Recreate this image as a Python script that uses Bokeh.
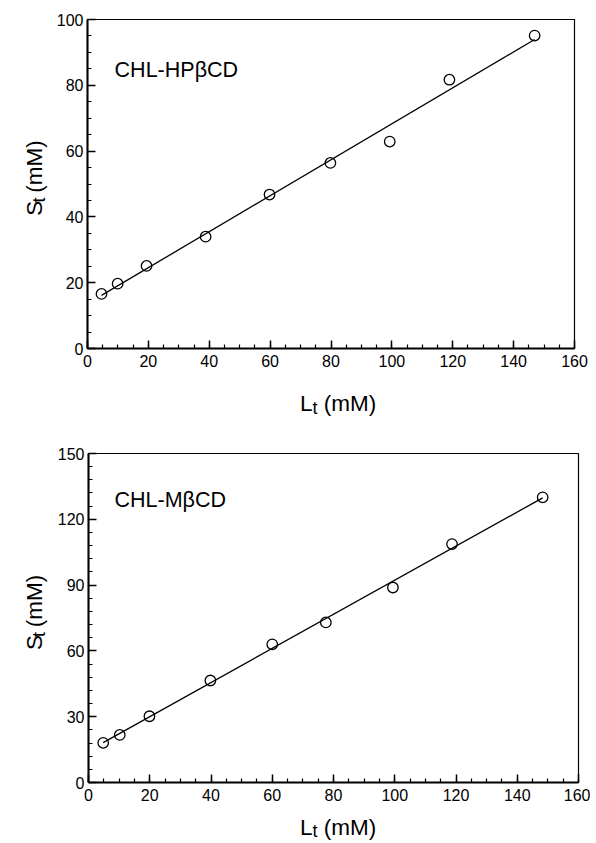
import numpy as np
from bokeh.plotting import figure
from bokeh.layouts import column, row
from bokeh.models import Range1d, SingleIntervalTicker, Label
from bokeh.embed import file_html
from bokeh.resources import INLINE

# ---- data ----
hp_name = "CHL-HPβCD"
hp_x = [4.6, 9.9, 19.4, 38.8, 59.8, 79.8, 99.3, 118.9, 146.9]
hp_y = [16.6, 19.7, 25.1, 34.0, 46.8, 56.4, 62.9, 81.7, 95.1]

m_name = "CHL-MβCD"
m_x = [4.8, 10.2, 19.9, 39.8, 60.0, 77.5, 99.4, 118.7, 148.3]
m_y = [18.1, 21.7, 30.2, 46.5, 63.0, 73.0, 88.9, 108.7, 130.0]

x_max = 160
hp_y_max = 100
m_y_max = 150

FONT = "Liberation Sans"
TICK_FS = "16px"
LAB_FS = 22.5
SUB_FS = 18

# Arial / Liberation Sans advance widths (per em)
ADV = {"S": 0.667, "L": 0.556, "t": 0.278, " ": 0.278, "(": 0.333, ")": 0.333,
       "m": 0.833, "M": 0.833}


def tw(s, fs):
    return sum(ADV.get(c, 0.556) for c in s) * fs


def label_fig(w, h):
    f = figure(width=w, height=h, x_range=Range1d(0, w), y_range=Range1d(0, h),
               x_axis_type=None, y_axis_type=None, output_backend="svg",
               toolbar_location=None, min_border=0,
               min_border_left=0, min_border_right=0,
               min_border_top=0, min_border_bottom=0)
    f.outline_line_color = None
    f.grid.visible = False
    f.background_fill_color = "white"
    f.border_fill_color = "white"
    return f


def sub_label(f, cx, cy, main, sub, rest, rotated, drop_sub=4):
    """main + subscript + ' ' + rest as separate real text labels,
    centred on cx (or cy when rotated); the other coordinate is the baseline."""
    w_main = tw(main, LAB_FS)
    w_sub = tw(sub, SUB_FS)
    w_gap = tw(" ", LAB_FS)
    w_rest = tw(rest, LAB_FS)
    total = w_main + w_sub + w_gap + w_rest
    parts = [(main, LAB_FS, 0, 0),
             (sub, SUB_FS, w_main, drop_sub),
             (rest, LAB_FS, w_main + w_sub + w_gap, 0)]
    for txt, fs, along, drop in parts:
        if rotated:
            lab = Label(x=cx + drop, y=cy - total / 2 + along, angle=np.pi / 2,
                        text=txt, text_align="left", text_baseline="alphabetic",
                        text_font=FONT, text_font_size=f"{fs}px", text_color="black")
        else:
            lab = Label(x=cx - total / 2 + along, y=cy - drop,
                        text=txt, text_align="left", text_baseline="alphabetic",
                        text_font=FONT, text_font_size=f"{fs}px", text_color="black")
        f.add_layout(lab)


def panel(xs, ys, y_max, y_int, y_minor, name, name_xy, width, height,
          b_left, b_right, b_top, b_bottom):
    p = figure(width=width, height=height,
               x_range=Range1d(0, x_max), y_range=Range1d(0, y_max),
               output_backend="svg", toolbar_location=None,
               min_border_left=b_left, min_border_right=b_right,
               min_border_top=b_top, min_border_bottom=b_bottom)
    p.grid.visible = False
    p.background_fill_color = "white"
    p.border_fill_color = "white"
    p.outline_line_color = "black"
    p.outline_line_width = 1.2
    p.outline_line_alpha = 1.0

    p.xaxis.ticker = SingleIntervalTicker(interval=20, num_minor_ticks=4)
    p.yaxis.ticker = SingleIntervalTicker(interval=y_int, num_minor_ticks=y_minor)
    for ax in (p.xaxis[0], p.yaxis[0]):
        ax.axis_line_color = "black"
        ax.axis_line_width = 2
        ax.major_tick_in = 8
        ax.major_tick_out = 0
        ax.minor_tick_in = 4
        ax.minor_tick_out = 0
        ax.major_tick_line_color = "black"
        ax.minor_tick_line_color = "black"
        ax.major_tick_line_width = 1.5
        ax.minor_tick_line_width = 1.2
        ax.major_label_text_font = FONT
        ax.major_label_text_font_size = TICK_FS
        ax.major_label_text_color = "black"
    p.xaxis.major_label_standoff = 6
    p.yaxis.major_label_standoff = 4

    # fitted straight line through the points
    k, b = np.polyfit(xs, ys, 1)
    lx = [min(xs), max(xs)]
    p.line(lx, [k * v + b for v in lx], line_color="black", line_width=1.3)
    p.scatter(xs, ys, marker="circle", size=10.5, fill_alpha=0,
              line_color="black", line_width=1.3)

    p.add_layout(Label(x=name_xy[0], y=name_xy[1], text=name,
                       text_font=FONT, text_font_size="21.5px",
                       text_baseline="alphabetic", text_color="black"))
    return p


# top block (page y 0..433)
p1 = panel(hp_x, hp_y, hp_y_max, 20, 4, hp_name, (8.9, 84.7), 537, 378,
           34, 16, 19, 30)
yl1 = label_fig(53, 378)
sub_label(yl1, 34.3, 378 - 186, "S", "t", "(mM)", True)
xl1 = label_fig(590, 55)
sub_label(xl1, 337.5, 30, "L", "t", "(mM)", False)

# bottom block (page y 433..843)
p2 = panel(m_x, m_y, m_y_max, 30, 5, m_name, (8.5, 128.8), 537, 379,
           35, 12, 20, 30)
yl2 = label_fig(53, 379)
sub_label(yl2, 34.3, 379 - 187, "S", "t", "(mM)", True)
xl2 = label_fig(590, 31)
sub_label(xl2, 337.5, 16, "L", "t", "(mM)", False, drop_sub=3.5)

layout = column(row(yl1, p1, spacing=0), xl1, row(yl2, p2, spacing=0), xl2,
                spacing=0)
open("out.html", "w").write(file_html(layout, INLINE))
